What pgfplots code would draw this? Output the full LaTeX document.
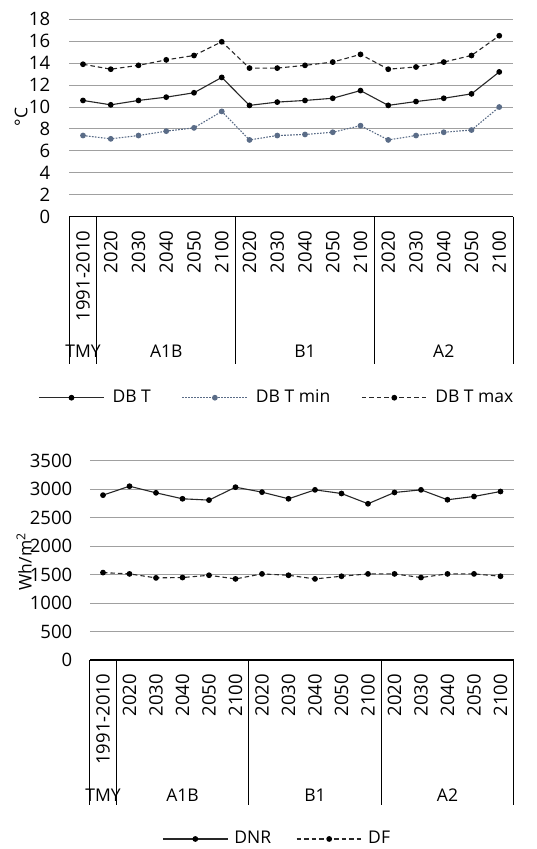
\documentclass[border=0pt]{standalone}
\usepackage{pgfplots}
\pgfplotsset{compat=1.18}
\usepackage{pgfplotstable}
\usepackage{fontspec}
\setmainfont{Open Sans}
\definecolor{gridc}{RGB}{160,160,160}
\definecolor{minc}{RGB}{90,108,135}
\definecolor{linec}{RGB}{40,40,40}

\pgfplotstableread{
x dbt dbtmin dbtmax
0 10.6 7.4 13.9
1 10.2 7.1 13.45
2 10.6 7.4 13.8
3 10.9 7.8 14.3
4 11.3 8.1 14.7
5 12.7 9.6 15.95
6 10.15 7.0 13.55
7 10.45 7.4 13.55
8 10.6 7.5 13.8
9 10.8 7.7 14.1
10 11.5 8.3 14.8
11 10.15 7.0 13.45
12 10.5 7.4 13.65
13 10.8 7.7 14.1
14 11.2 7.9 14.7
15 13.2 10.0 16.5
}\temptable

\pgfplotstableread{
x dnr df
0 2895 1535
1 3052 1512
2 2936 1442
3 2831 1448
4 2808 1488
5 3035 1424
6 2948 1512
7 2831 1488
8 2988 1424
9 2924 1471
10 2744 1512
11 2942 1512
12 2988 1448
13 2814 1512
14 2872 1512
15 2959 1471
}\radtable

\pgfplotsset{
  common/.style={
    scale only axis,
    xmin=-0.5, xmax=15.5,
    axis x line*=bottom,
    axis y line*=left,
    y axis line style={draw=none},
    x axis line style={black, line width=1.2pt},
    xtick={0,...,15},
    xticklabels={1991-2010,2020,2030,2040,2050,2100,2020,2030,2040,2050,2100,2020,2030,2040,2050,2100},
    tick label style={font=\fontsize{18.5}{22}\selectfont},
    xticklabel style={rotate=90, anchor=east},
    xticklabel shift=8pt,
    major tick length=0pt,
    tick style={draw=none},
    ymajorgrids,
    grid style={gridc, line width=1pt},
    /pgf/number format/assume math mode=true,
    /pgf/number format/1000 sep={},
    clip=false,
    legend cell align=left,
    legend image code/.code={\draw[mark repeat=2,mark phase=2,#1] plot coordinates {(0pt,0pt) (32.5pt,0pt) (65pt,0pt)};},
    every axis plot/.append style={line width=1.1pt, mark size=2.3pt},
  },
}

\begin{document}
\fontsize{17.5}{21}\selectfont
\begin{tikzpicture}[x=1pt,y=1pt]
\useasboundingbox (0,0) rectangle (536,849);

% ---------- top chart ----------
\begin{axis}[common,
  at={(83pt,632.3pt)}, anchor=origin,
  width=444pt, height=197.4pt,
  ymin=0, ymax=18, ytick={0,2,...,18},
  yticklabel shift=13pt,
  legend style={at={(0.468,-0.917)}, anchor=center, draw=none, fill=none,
    legend columns=3, font=\fontsize{17.5}{21}\selectfont,
    /tikz/every odd column/.append style={column sep=6pt},
    /tikz/every even column/.append style={column sep=29pt}},
]
\addplot[linec, solid, mark=*, mark options={solid, black}] table[x=x,y=dbt] {\temptable};
\addlegendentry{DB T}
\addplot[minc, dash pattern=on 1.6pt off 1.4pt, mark=*, mark options={solid, minc}] table[x=x,y=dbtmin] {\temptable};
\addlegendentry{DB T min}
\addplot[linec, dash pattern=on 4.5pt off 3pt, mark=*, mark options={solid, black}] table[x=x,y=dbtmax] {\temptable};
\addlegendentry{DB T max}
\pgfplotsinvokeforeach{-0.5,0.5,5.5,10.5,15.5}{
  \draw[black, line width=1.2pt] (axis cs:#1,0) -- ++(0pt,-147pt);
}
\node at (axis cs:0,0) [yshift=-134.7pt] {TMY};
\node at (axis cs:3,0) [yshift=-134.7pt] {A1B};
\node at (axis cs:8,0) [yshift=-134.7pt] {B1};
\node at (axis cs:13,0) [yshift=-134.7pt] {A2};
\end{axis}
\node[rotate=90] at (21pt,732pt) {°C};

% ---------- bottom chart ----------
\begin{axis}[common,
  at={(103pt,189pt)}, anchor=origin,
  width=424pt, height=199.3pt,
  ymin=0, ymax=3500, ytick={0,500,...,3500},
  yticklabel shift=11.5pt,
  scaled y ticks=false,
  legend style={at={(0.442,-0.898)}, anchor=center, draw=none, fill=none,
    legend columns=2, font=\fontsize{17.5}{21}\selectfont,
    /tikz/every odd column/.append style={column sep=4pt},
    /tikz/every even column/.append style={column sep=23pt}},
]
\addplot[linec, solid, mark=*, mark options={solid, black}] table[x=x,y=dnr] {\radtable};
\addlegendentry{DNR}
\addplot[linec, dash pattern=on 4.5pt off 3pt, mark=*, mark options={solid, black}] table[x=x,y=df] {\radtable};
\addlegendentry{DF}
\pgfplotsinvokeforeach{-0.5,0.5,5.5,10.5,15.5}{
  \draw[black, line width=1.2pt] (axis cs:#1,0) -- ++(0pt,-145pt);
}
\node at (axis cs:0,0) [yshift=-135pt] {TMY};
\node at (axis cs:3,0) [yshift=-135pt] {A1B};
\node at (axis cs:8,0) [yshift=-135pt] {B1};
\node at (axis cs:13,0) [yshift=-135pt] {A2};
\end{axis}
\node[rotate=90] at (24pt,287.3pt) {Wh/m\textsuperscript{2}};
\end{tikzpicture}
\end{document}
